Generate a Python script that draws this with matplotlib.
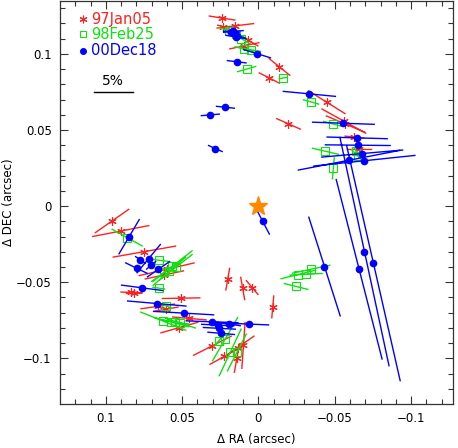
import numpy as np
import matplotlib
matplotlib.use('Agg')
import matplotlib.pyplot as plt

# 偏振矢量数据: RA, DEC (arcsec), 偏振度 p (%), 位置角 pa (deg, 北向东)
jan05_ra = [0.0238, 0.0151, 0.0229, 0.0070, 0.0092, -0.0138, -0.0072, -0.0197, -0.0448, -0.0560,
            -0.0570, -0.0629, -0.0662, 0.0103, 0.0041, -0.0094, 0.0201, 0.0507, 0.0959, 0.0902,
            0.0747, 0.0601, 0.0616, 0.0834, 0.0813, 0.0660, 0.0603, 0.0452, 0.0518, 0.0301,
            0.0223, 0.0136, 0.0141, 0.0098]
jan05_dec = [0.1235, 0.1184, 0.1178, 0.1092, 0.1053, 0.0914, 0.0841, 0.0540, 0.0682, 0.0558,
             0.0539, 0.0453, 0.0372, -0.0541, -0.0535, -0.0662, -0.0480, -0.0605, -0.0098, -0.0164,
             -0.0299, -0.0415, -0.0452, -0.0567, -0.0572, -0.0659, -0.0677, -0.0738, -0.0798, -0.0917,
             -0.0987, -0.0929, -0.0998, -0.0915]
jan05_p = [3.3, 4.7, 1.5, 3.0, 3.8, 3.4, 2.9, 3.3, 5.5, 6.4,
           5.3, 2.4, 3.1, 2.9, 2.3, 2.8, 2.8, 4.8, 5.2, 7.3,
           8.1, 7.2, 5.0, 2.6, 2.0, 4.3, 3.0, 4.3, 4.9, 5.4,
           4.2, 5.1, 3.7, 5.9]
jan05_pa = [81, 97, 75, 59, 102, 51, 63, 66, 58, 61,
            67, 84, 90, 10, 40, 175, 170, 91, 125, 101,
            100, 103, 102, 88, 92, 98, 100, 85, 106, 117,
            119, 125, 170, 176]

feb25_ra = [0.0190, 0.0144, 0.0111, 0.0092, 0.0049, 0.0077, -0.0162, -0.0345, -0.0487, -0.0439,
            -0.0650, -0.0258, -0.0313, -0.0345, -0.0247, 0.0860, 0.0649, 0.0564, 0.0541, 0.0616,
            0.0583, 0.0653, 0.0623, 0.0570, 0.0544, 0.0511, 0.0605, 0.0218, 0.0185, 0.0141,
            0.0260, -0.0491, -0.0640]
feb25_dec = [0.1151, 0.1132, 0.1099, 0.1030, 0.1027, 0.0900, 0.0841, 0.0684, 0.0540, 0.0360,
             0.0330, -0.0450, -0.0448, -0.0415, -0.0528, -0.0207, -0.0356, -0.0395, -0.0402, -0.0434,
             -0.0428, -0.0539, -0.0756, -0.0762, -0.0762, -0.0769, -0.0655, -0.0874, -0.0961, -0.0961,
             -0.0885, 0.0248, 0.0362]
feb25_p = [2.7, 3.0, 2.5, 2.5, 2.5, 2.4, 1.0, 2.0, 2.4, 3.4,
           2.2, 4.4, 4.1, 4.9, 3.1, 4.4, 2.7, 6.4, 5.3, 4.0,
           5.5, 1.5, 6.2, 4.5, 3.5, 4.0, 1.6, 6.4, 6.6, 5.3,
           2.0, 2.7, 1.0]
feb25_pa = [72, 65, 60, 75, 80, 106, 100, 74, 75, 77,
            45, 104, 93, 102, 76, 61, 83, 128, 128, 126,
            131, 82, 68, 75, 82, 72, 67, 150, 155, 153,
            140, 175, 30]

dec18_ra = [0.0164, 0.0146, 0.0177, 0.0142, 0.0009, 0.0142, 0.0216, 0.0315, 0.0282, -0.0334,
            -0.0557, -0.0647, -0.0651, -0.0680, -0.0593, -0.0695, -0.0660, -0.0695, -0.0754, -0.0433,
            -0.0028, 0.0847, 0.0773, 0.0719, 0.0703, 0.0798, 0.0655, 0.0762, 0.0666, 0.0490,
            0.0303, 0.0267, 0.0256, 0.0195, 0.0064, 0.0244]
dec18_dec = [0.1147, 0.1110, 0.1145, 0.1119, 0.1001, 0.0948, 0.0649, 0.0599, 0.0378, 0.0737,
             0.0544, 0.0448, 0.0400, 0.0345, 0.0301, 0.0298, -0.0415, -0.0299, -0.0377, -0.0397,
             -0.0100, -0.0201, -0.0354, -0.0345, -0.0389, -0.0408, -0.0415, -0.0537, -0.0640, -0.0703,
             -0.0760, -0.0782, -0.0803, -0.0775, -0.0775, -0.0836]
dec18_p = [2.5, 2.6, 2.0, 2.2, 3.6, 2.4, 2.3, 2.3, 1.9, 6.7,
           7.9, 7.7, 8.3, 10.4, 13.2, 13.0, 23.8, 30.0, 30.9, 13.3,
           3.7, 5.1, 1.5, 4.7, 1.5, 3.1, 3.4, 5.3, 7.5, 7.7,
           6.6, 4.1, 4.1, 3.0, 5.1, 3.4]
dec18_pa = [95, 80, 85, 75, 73, 83, 84, 95, 66, 84.5,
            88, 88.4, 89.4, 95, 101, 96, 14.3, 12.1, 12.8, 17.6,
            27.5, 149.5, 55, 140.5, 130, 64, 124.7, 82.5, 85, 86.7,
            88, 87, 87, 82, 87.6, 85]

labels = ['97Jan05', '98Feb25', '00Dec18']
colors = ['#ff2020', '#10e010', '#0000ff']

scale = 0.00511  # arcsec / %
xtick_vals = [0.1, 0.05, 0, -0.05, -0.1]
xtick_labels = ['0.1', '0.05', '0', '\u22120.05', '\u22120.1']
ytick_vals = [0.1, 0.05, 0, -0.05, -0.1]
ytick_labels = ['0.1', '0.05', '0', '\u22120.05', '\u22120.1']

fig = plt.figure(figsize=(4.58, 4.48), dpi=100)
ax = fig.add_axes([60 / 458, 1 - 404 / 448, 393 / 458, 403 / 448])


def draw_vectors(ra, dec, p, pa, color):
    ra = np.array(ra)
    dec = np.array(dec)
    half = 0.5 * np.array(p) * scale
    t = np.radians(pa)
    dx = half * np.sin(t)
    dy = half * np.cos(t)
    xs = np.column_stack([ra - dx, ra + dx, np.full(len(ra), np.nan)]).ravel()
    ys = np.column_stack([dec - dy, dec + dy, np.full(len(ra), np.nan)]).ravel()
    ax.plot(xs, ys, color=color, lw=1.0)


draw_vectors(jan05_ra, jan05_dec, jan05_p, jan05_pa, colors[0])
ax.plot(jan05_ra, jan05_dec, ls='none', marker=(6, 2, 0), ms=6, mec=colors[0], mew=0.8)
draw_vectors(feb25_ra, feb25_dec, feb25_p, feb25_pa, colors[1])
ax.plot(feb25_ra, feb25_dec, ls='none', marker='s', ms=6, mfc='none', mec=colors[1], mew=0.8)
draw_vectors(dec18_ra, dec18_dec, dec18_p, dec18_pa, colors[2])
ax.plot(dec18_ra, dec18_dec, ls='none', marker='o', ms=4.5, color=colors[2])

# 中心星
ax.plot([0], [0], marker='*', ms=14, color='#ff8a00', ls='none')

# 图例
leg_y = [0.955, 0.918, 0.876]
markers = [dict(marker=(6, 2, 0), ms=5.5, mec=colors[0], mew=0.8),
           dict(marker='s', ms=5, mfc='none', mec=colors[1], mew=0.8),
           dict(marker='o', ms=4, color=colors[2])]
for lab, c, y, mk in zip(labels, colors, leg_y, markers):
    ax.plot([0.058], [y], transform=ax.transAxes, ls='none', **mk)
    ax.text(0.078, y, lab, transform=ax.transAxes, color=c, fontsize=10.5, va='center', ha='left')

# 5% 比例尺
bar_x = 0.0952
bar_y = 0.075
ax.plot([bar_x + 2.5 * scale, bar_x - 2.5 * scale], [bar_y, bar_y], color='black', lw=1.0)
ax.text(bar_x, bar_y + 0.0025, '5%', ha='center', va='bottom', fontsize=10)

ax.set_xlim(0.130, -0.1275)
ax.set_ylim(-0.130, 0.1347)
ax.set_xticks(xtick_vals, xtick_labels)
ax.set_yticks(ytick_vals, ytick_labels)
ax.set_xticks(np.arange(-0.12, 0.13, 0.01), minor=True)
ax.set_yticks(np.arange(-0.12, 0.131, 0.01), minor=True)
ax.tick_params(which='both', direction='in', top=True, right=True, labelsize=8.5, color='#333333')
ax.tick_params(which='major', length=6, width=0.8, pad=6)
ax.tick_params(which='minor', length=3.5, width=0.8)
for s in ax.spines.values():
    s.set_linewidth(0.9)
    s.set_color('#333333')

ax.set_xlabel('\u0394 RA (arcsec)', fontsize=8.5, va='center')
ax.set_ylabel('\u0394 DEC (arcsec)', fontsize=8.5, va='center')
ax.xaxis.set_label_coords(0.5, -0.089)
ax.yaxis.set_label_coords(-0.132, 0.5)

plt.savefig('out.png', dpi=100)
